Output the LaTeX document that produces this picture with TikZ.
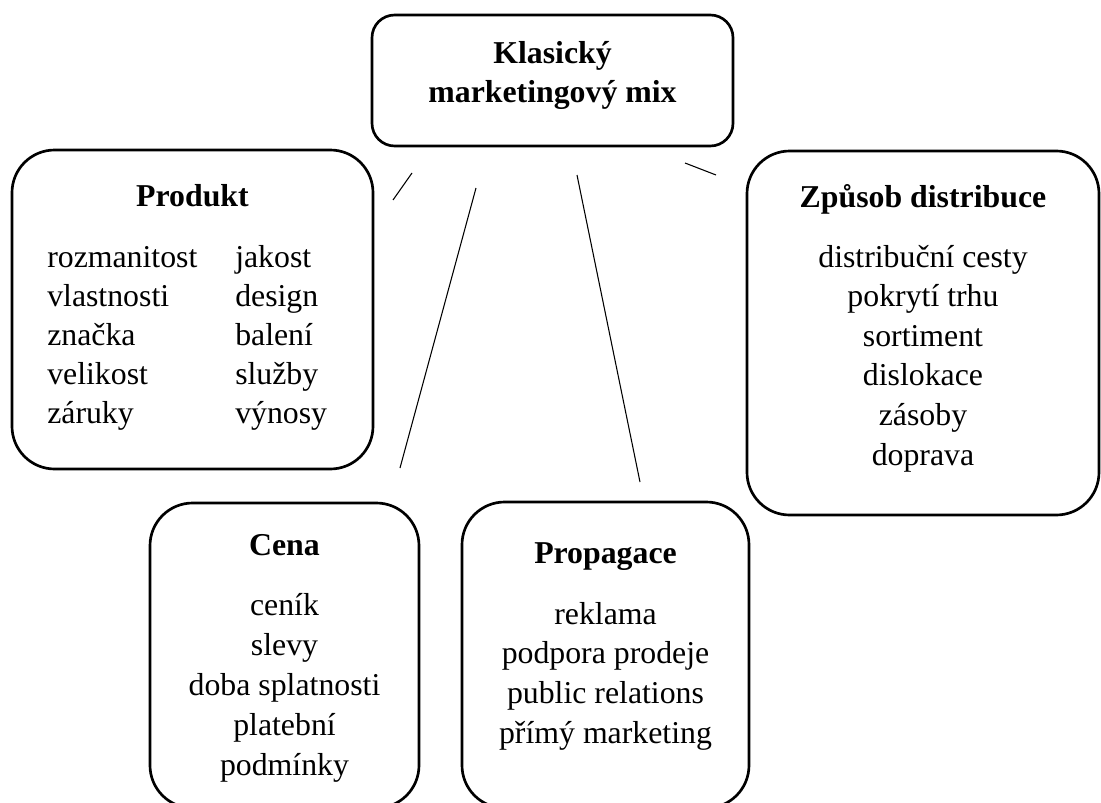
\documentclass[tikz,border=0pt]{standalone}
\usepackage{fontspec}
\setmainfont{Liberation Serif}
\usetikzlibrary{fit}
\begin{document}
\begin{tikzpicture}[x=0.75pt,y=-0.75pt,
  bigbox/.style={draw, line width=2pt, rounded corners=32pt, inner sep=0pt},
  topbox/.style={draw, line width=2pt, rounded corners=17pt, inner sep=0pt},
  titletext/.style={font=\fontsize{23.85}{30}\selectfont\bfseries, anchor=base, inner sep=0pt},
  itemtext/.style={font=\fontsize{23.85}{30}\selectfont, anchor=base, inner sep=0pt},
  itemleft/.style={itemtext, anchor=base west},
  link/.style={line width=0.8pt}]
\useasboundingbox (0,0) rectangle (1101,803);
\clip (0,0) rectangle (1101,803);

% boxes
\node[topbox, fit={(372,15)(733,146)}] (mix) {};
\node[bigbox, fit={(12,150)(373,469)}] (produkt) {};
\node[bigbox, fit={(747,151)(1099,515)}] (distribuce) {};
\node[bigbox, fit={(150,503)(419,808)}] (cena) {};
\node[bigbox, fit={(462,502)(749,808)}] (propagace) {};

% top
\node[titletext] (mixA) at (552.5,63) {Klasický};
\node[titletext] (mixB) at (552.5,102) {marketingový mix};

% Produkt
\node[titletext] (produktT) at (192.5,206) {Produkt};
\foreach \t [count=\i] in {rozmanitost,vlastnosti,značka,velikost,záruky}
  \node[itemleft] (pl\i) at (47,{267+39*(\i-1)}) {\t};
\foreach \t [count=\i] in {jakost,design,balení,služby,výnosy}
  \node[itemleft] (pr\i) at (235,{267+39*(\i-1)}) {\t};

% Distribuce
\node[titletext] (distribuceT) at (923,207) {Způsob distribuce};
\foreach \t [count=\i] in {distribuční cesty,pokrytí trhu,sortiment,dislokace,zásoby,doprava}
  \node[itemtext] (d\i) at (923,{267+39.6*(\i-1)}) {\t};

% Cena
\node[titletext] (cenaT) at (284.5,555) {Cena};
\foreach \t [count=\i] in {ceník,slevy,doba splatnosti,platební,podmínky}
  \node[itemtext] (c\i) at (284.5,{615+40*(\i-1)}) {\t};

% Propagace
\node[titletext] (propagaceT) at (605.5,563) {Propagace};
\foreach \t [count=\i] in {reklama,podpora prodeje,public relations,přímý marketing}
  \node[itemtext] (g\i) at (605.5,{624+39.7*(\i-1)}) {\t};

% connector segments
\coordinate (l1a) at (412,173);
\coordinate (l1b) at (393,200);
\coordinate (l2a) at (476,188);
\coordinate (l2b) at (400,468);
\coordinate (l3a) at (577,175);
\coordinate (l3b) at (640,482);
\coordinate (l4a) at (685,163);
\coordinate (l4b) at (716,175);
\draw[link] (l1a) -- (l1b);
\draw[link] (l2a) -- (l2b);
\draw[link] (l3a) -- (l3b);
\draw[link] (l4a) -- (l4b);
\end{tikzpicture}
\end{document}
